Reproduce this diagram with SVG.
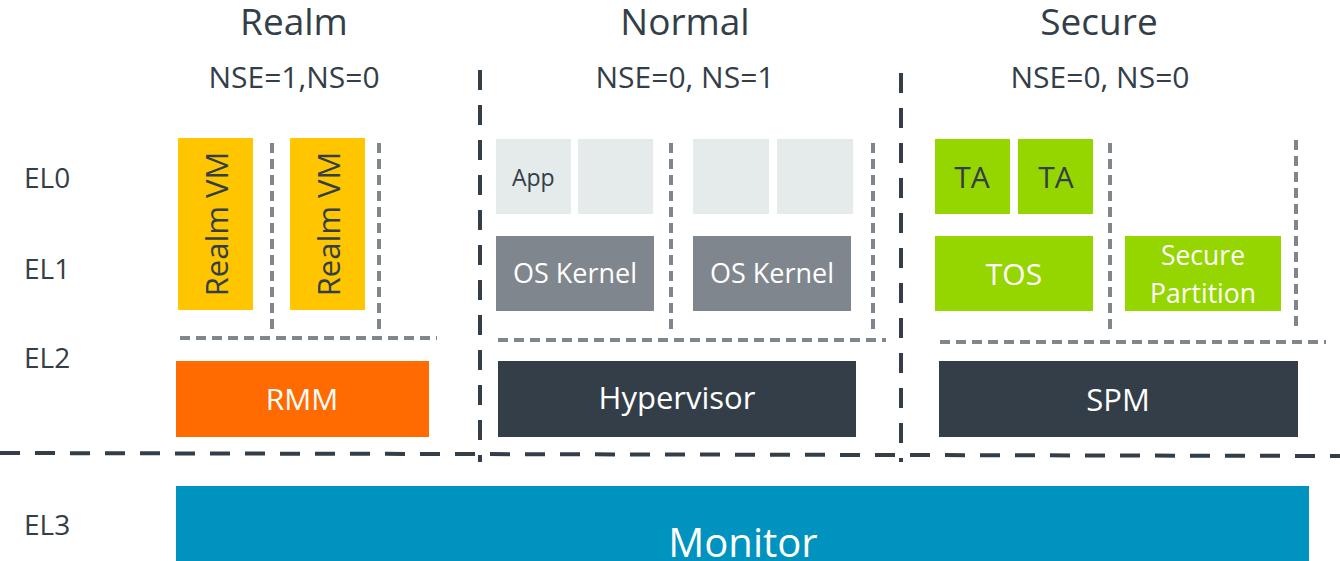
<svg xmlns="http://www.w3.org/2000/svg" width="1340" height="561" viewBox="0 0 1340 561">
<style>
text{font-family:"Open Sans","Noto Sans","Liberation Sans",sans-serif;}
.dk{fill:#333E48;}
.wt{fill:#FFFFFF;}
.hdr{font-size:37px;text-anchor:middle;}
.ns{font-size:30px;text-anchor:middle;}
.el{font-size:28px;}
.c{text-anchor:middle;}
.gd{stroke:#7F868E;stroke-width:4;fill:none;stroke-dasharray:10 6;}
.bd{stroke:#333E48;stroke-width:4;fill:none;stroke-dasharray:20 15;}
</style>
<rect width="1340" height="561" fill="#FFFFFF"/>
<g id="headers">
<text class="dk hdr" x="294" y="35">Realm</text>
<text class="dk hdr" x="685" y="35">Normal</text>
<text class="dk hdr" x="1099" y="35">Secure</text>
<text class="dk ns" x="294" y="88">NSE=1,NS=0</text>
<text class="dk ns" x="685" y="88">NSE=0, NS=1</text>
<text class="dk ns" x="1100" y="88">NSE=0, NS=0</text>
</g>
<g id="levels">
<text class="dk el" x="24" y="188">EL0</text>
<text class="dk el" x="24" y="279">EL1</text>
<text class="dk el" x="24" y="368">EL2</text>
<text class="dk el" x="24" y="535">EL3</text>
</g>
<g id="connectors">
<path class="gd" d="M272 143V335M379 143V335M180 338H437"/>
<path class="gd" d="M671 143V335M873 143V335M498 340H886"/>
<path class="gd" d="M1110 143V333M1296 140V330M940 342H1326"/>
<path class="bd" d="M480 70V462M901 73V462"/>
<path class="bd" d="M0 453L1340 456"/>
</g>
<g id="realm-vm-1">
<rect x="178" y="138" width="75" height="172" fill="#FFC600"/>
<text class="dk c" font-size="31" transform="translate(228,224) rotate(-90)">Realm VM</text>
</g>
<g id="realm-vm-2">
<rect x="290" y="138" width="75" height="172" fill="#FFC600"/>
<text class="dk c" font-size="31" transform="translate(340,224) rotate(-90)">Realm VM</text>
</g>
<g id="rmm">
<rect x="176" y="361" width="253" height="76" fill="#FF6B00"/>
<text class="wt c" font-size="30" x="302" y="410">RMM</text>
</g>
<g id="app-1">
<rect x="496" y="139" width="75" height="75" fill="#E5EAEA"/>
<text class="dk" font-size="23" x="512" y="186">App</text>
</g>
<g id="app-2"><rect x="578" y="139" width="75" height="75" fill="#E5EAEA"/></g>
<g id="app-3"><rect x="693" y="139" width="76" height="75" fill="#E5EAEA"/></g>
<g id="app-4"><rect x="777" y="139" width="76" height="75" fill="#E5EAEA"/></g>
<g id="os-kernel-1">
<rect x="496" y="236" width="158" height="75" fill="#7F868E"/>
<text class="wt c" font-size="27" x="575" y="283">OS Kernel</text>
</g>
<g id="os-kernel-2">
<rect x="693" y="236" width="158" height="75" fill="#7F868E"/>
<text class="wt c" font-size="27" x="772" y="283">OS Kernel</text>
</g>
<g id="hypervisor">
<rect x="498" y="361" width="358" height="76" fill="#333E48"/>
<text class="wt c" font-size="31" x="677" y="409">Hypervisor</text>
</g>
<g id="ta-1">
<rect x="935" y="139" width="75" height="75" fill="#95D600"/>
<text class="dk c" font-size="30" x="972" y="188">TA</text>
</g>
<g id="ta-2">
<rect x="1018" y="139" width="75" height="75" fill="#95D600"/>
<text class="dk c" font-size="30" x="1056" y="188">TA</text>
</g>
<g id="tos">
<rect x="935" y="236" width="158" height="75" fill="#95D600"/>
<text class="wt c" font-size="30" x="1014" y="285">TOS</text>
</g>
<g id="secure-partition">
<rect x="1125" y="236" width="156" height="75" fill="#95D600"/>
<text class="wt c" font-size="26.5" x="1203" y="265">Secure</text>
<text class="wt c" font-size="26.5" x="1203" y="303">Partition</text>
</g>
<g id="spm">
<rect x="939" y="361" width="359" height="76" fill="#333E48"/>
<text class="wt c" font-size="31" x="1118" y="411">SPM</text>
</g>
<g id="monitor">
<rect x="176" y="486" width="1133" height="80" fill="#0093BF"/>
<text class="wt c" font-size="40" x="743" y="557">Monitor</text>
</g>
</svg>
